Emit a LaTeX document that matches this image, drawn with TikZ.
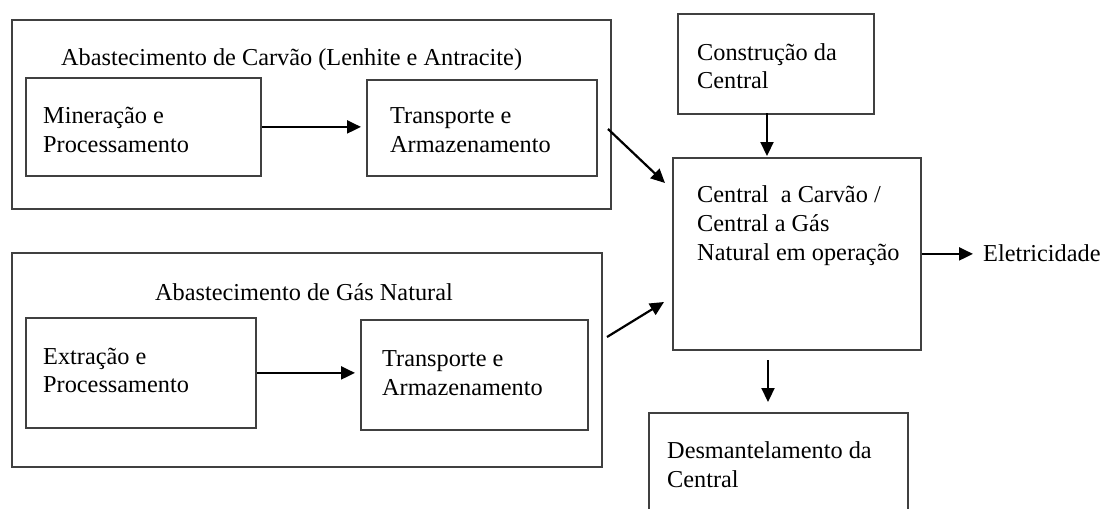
\documentclass[tikz,border=0pt]{standalone}
\usepackage{fontspec}
\setmainfont{Liberation Serif}
\usetikzlibrary{arrows.meta}
\begin{document}
\begin{tikzpicture}[x=1pt,y=-1pt,
  box/.style={draw=black!75, line width=1.8pt, inner sep=0pt, anchor=north west},
  txt/.style={anchor=base west, inner sep=0pt, font=\fontsize{24.3}{29}\selectfont, text=black},
  arr/.style={-{Triangle[length=14pt,width=13pt]}, line width=2.2pt, black}]
\useasboundingbox (0,0) rectangle (1104,509);
\fill[white] (0,0) rectangle (1104,509);
% boxes
\node[box, minimum width=599pt, minimum height=189pt] (coal) at (11,19) {};
\node[box, minimum width=235pt, minimum height=98pt] (miner) at (25,77) {};
\node[box, minimum width=230pt, minimum height=96pt] (tr1) at (366,79) {};
\node[box, minimum width=590pt, minimum height=214pt] (gas) at (11,252) {};
\node[box, minimum width=230pt, minimum height=110pt] (extr) at (25,317) {};
\node[box, minimum width=227pt, minimum height=110pt] (tr2) at (360,319) {};
\node[box, minimum width=196pt, minimum height=100pt] (constr) at (677,13) {};
\node[box, minimum width=248pt, minimum height=192pt] (central) at (672,157) {};
\node[box, minimum width=259pt, minimum height=130pt] (desm) at (648,412) {};
% texts
\node[txt] (t1) at (61,65) {Abastecimento de Carvão (Lenhite e Antracite)};
\node[txt] (m1) at (43,123) {Mineração e};
\node[txt] (m2) at (43,152) {Processamento};
\node[txt] (a1) at (390,123) {Transporte e};
\node[txt] (a2) at (390,152) {Armazenamento};
\node[txt] (t2) at (155,300) {Abastecimento de Gás Natural};
\node[txt] (e1) at (43,364) {Extração e};
\node[txt] (e2) at (43,392) {Processamento};
\node[txt] (b1) at (382,366) {Transporte e};
\node[txt] (b2) at (382,395) {Armazenamento};
\node[txt] (c1) at (697,60) {Construção da};
\node[txt] (c2) at (697,88) {Central};
\node[txt] (o1) at (697,202) {Central\ \ a Carvão /};
\node[txt] (o2) at (697,231) {Central a Gás};
\node[txt] (o3) at (697,260) {Natural em operação};
\node[txt] (elec) at (983,261) {Eletricidade};
\node[txt] (d1) at (667,458) {Desmantelamento da};
\node[txt] (d2) at (667,487) {Central};
% connector end points
\coordinate (cs) at (608,129);
\coordinate (ce) at (665,183);
\coordinate (gs) at (607,337);
\coordinate (ge) at (664,302);
\coordinate (k1) at (767,113);
\coordinate (k2) at (768,360);
% connectors
\draw[arr, shorten >=5pt] (miner.east) -- (miner.east -| tr1.west);
\draw[arr, shorten >=5pt] (extr.east) -- (extr.east -| tr2.west);
\draw[arr] (cs) -- (ce);
\draw[arr] (gs) -- (ge);
\draw[arr, shorten >=1pt] (k1) -- (k1 |- central.north);
\draw[arr, shorten >=10pt] (central.east) -- (central.east -| elec.west);
\draw[arr, shorten >=10pt] (k2) -- (k2 |- desm.north);
\end{tikzpicture}
\end{document}
